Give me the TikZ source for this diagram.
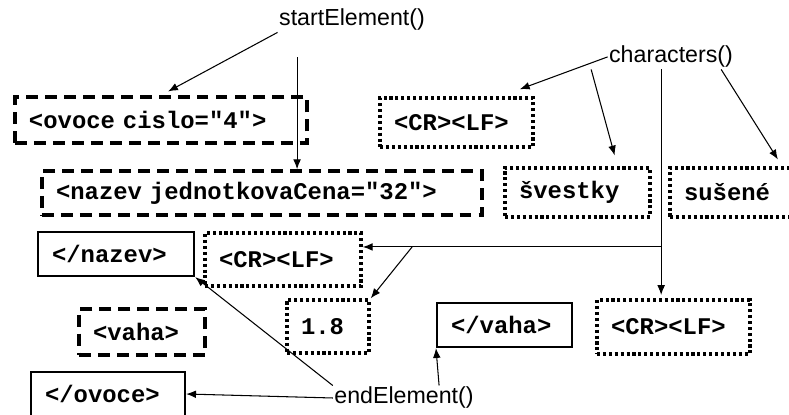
\documentclass[tikz,border=0pt]{standalone}
\usepackage{fontspec}
\setmainfont{Liberation Sans}
\setmonofont{Liberation Mono}
\usetikzlibrary{arrows.meta}

\begin{document}
\begin{tikzpicture}[scale=2.5,
  tag/.style={rectangle, inner xsep=0.35cm, inner ysep=0pt, align=left, font=\ttfamily\bfseries\fontsize{17}{20}\selectfont},
  dashbox/.style={tag, draw, line width=2.4pt, dash pattern=on 8.5pt off 5pt},
  dotbox/.style={tag, draw, line width=2.4pt, dash pattern=on 2.2pt off 2pt},
  endbox/.style={tag, draw, line width=1.6pt},
  call/.style={font=\fontsize{16.5}{20}\selectfont, inner sep=1pt},
  arr/.style={-{Latex[length=7pt,width=5.5pt]}, line width=0.75pt}]

\useasboundingbox (0,0) rectangle (7.89,4.15);

% calls of the handler
\node[call] (start) at (3.52,3.95) {startElement()};
\node[call] (chars) at (6.71,3.58) {characters()};
\node[call] (end) at (4.04,0.17) {endElement()};

% start tags
\node[dashbox, text width=6.6cm, minimum height=1.15cm] (ovoce) at (1.61,2.95) {<ovoce cislo="4">};
\node[dashbox, text width=10.3cm, minimum height=1.1cm] (nazev) at (2.62,2.22) {<nazev jednotkovaCena="32">};
\node[dashbox, text width=2.45cm, minimum height=1.15cm] (vaha) at (1.42,0.83) {<vaha>};

% text content
\node[dotbox, text width=3.125cm, minimum height=1.225cm] (crlfA) at (4.565,2.925) {<CR><LF>};
\node[dotbox, text width=2.925cm, minimum height=1.225cm] (svestky) at (5.775,2.225) {švestky};
\node[dotbox, text width=2.4cm, minimum height=1.225cm] (susene) at (7.32,2.225) {sušené};
\node[dotbox, text width=3.2cm, minimum height=1.325cm] (crlfB) at (2.83,1.555) {<CR><LF>};
\node[dotbox, text width=1.35cm, minimum height=1.325cm] (dotnum) at (3.28,0.885) {1.8};
\node[dotbox, text width=3.125cm, minimum height=1.35cm] (crlfC) at (6.735,0.88) {<CR><LF>};

% end tags
\node[endbox, text width=3.2cm, minimum height=1.1cm] (cnazev) at (1.16,1.61) {</nazev>};
\node[endbox, text width=3.15cm, minimum height=1.1cm] (covoce) at (1.08,0.21) {</ovoce>};
\node[endbox, text width=2.675cm, minimum height=1.1cm] (cvaha) at (5.045,0.90) {</vaha>};

\coordinate (fork) at (6.61,1.68);
\coordinate (split) at (4.12,1.68);

\draw[arr, shorten >=0.2cm] (start.south west) -- (ovoce.north);
\draw[arr] ([xshift=-0.55cm,yshift=-0.25cm]start.south) -- ([xshift=-0.55cm]start.south |- nazev.north);

\draw[arr] (chars.west) -- ([xshift=-0.15cm,yshift=0.07cm]crlfA.north east);
\draw[arr, shorten >=0.28cm] ([xshift=-0.8cm]chars.south) -- ([xshift=0.4cm]svestky.north);
\draw[arr, shorten >=0.2cm] ([xshift=0.5cm]chars.south) -- ([xshift=0.5cm]susene.north);
\draw[line width=0.75pt] (chars.south -| fork) -- (fork);
\draw[arr] (fork) -- (fork -| crlfB.east);
\draw[arr, shorten >=0.08cm] (fork) -- (fork |- crlfC.north);
\draw[arr] (split) -- (dotnum.north east);

\draw[arr] (end.north west) -- (cnazev.south east);
\draw[arr] (end.west) -- (covoce.east);
\draw[arr] ([xshift=0.35cm]end.north) -- (cvaha.south west);

\end{tikzpicture}
\end{document}
